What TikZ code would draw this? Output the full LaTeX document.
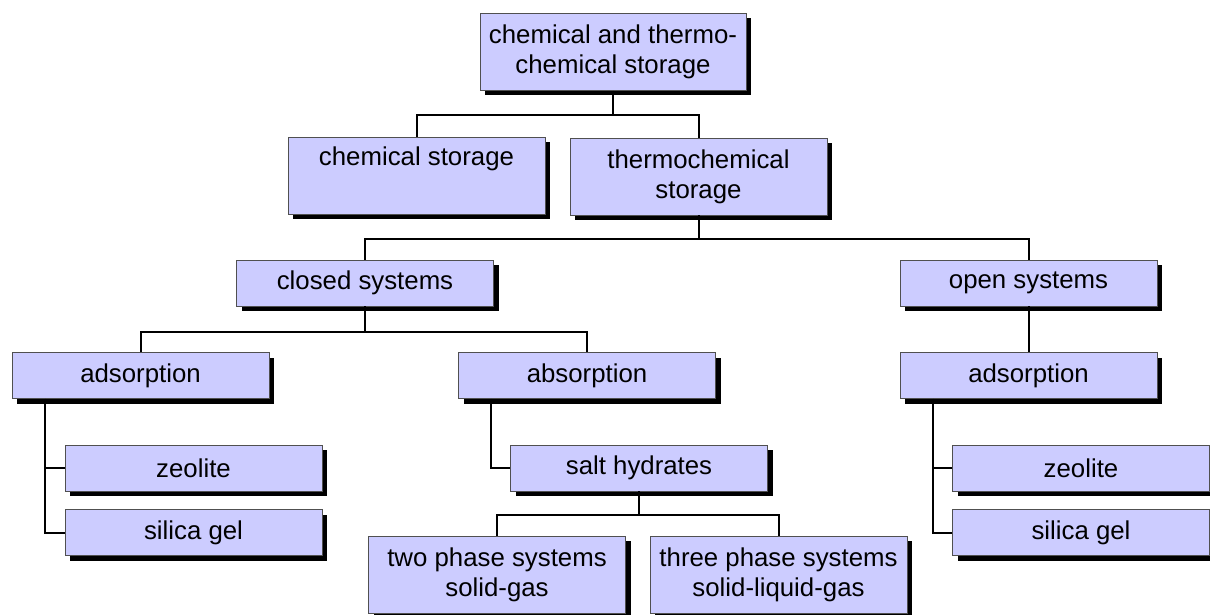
\documentclass[tikz,border=0pt]{standalone}
\usepackage{fontspec}
\setmainfont{Liberation Sans}
\usetikzlibrary{shadows,calc}
\definecolor{boxfill}{RGB}{204,204,255}
\definecolor{boxline}{RGB}{80,80,80}
\tikzset{
	box/.style={draw=boxline, line width=0.8pt, fill=boxfill,
		minimum width=257pt, minimum height=46pt, inner sep=2pt,
		align=center, font=\fontsize{25.8}{30}\selectfont,
		drop shadow={shadow xshift=5pt, shadow yshift=-5pt, fill=black, opacity=1}},
	tallbox/.style={box, minimum height=77pt},
	link/.style={line width=2pt}
}
\begin{document}
\begin{tikzpicture}[x=1pt,y=-1pt]
\useasboundingbox (0,0) rectangle (1210,615);

%Niveau 0 et 1
\node[tallbox, minimum width=266pt] (top) at (613,52) {chemical and thermo-\\chemical storage};
\node[tallbox] (chem) at (416.5,175.5) {chemical storage\\\strut};
\node[tallbox] (thermo) at (698.5,176.5) {thermochemical\\storage};

%Niveau 2
\node[box] (closed) at (365,283) {closed systems};
\node[box] (open) at (1028.5,283) {open systems};

%Niveau 3
\node[box] (adsL) at (140.5,375.5) {adsorption};
\node[box] (absorb) at (587,375.5) {absorption};
\node[box] (adsR) at (1028.5,375.5) {adsorption};

%Feuilles
\node[box] (zeoL) at (193.5,468) {zeolite};
\node[box] (silL) at (193.5,532.5) {silica gel};
\node[box] (salt) at (639,468) {salt hydrates};
\node[box] (zeoR) at (1081,468) {zeolite};
\node[box] (silR) at (1081,532.5) {silica gel};
\node[tallbox] (two) at (497,574.5) {two phase systems\\solid-gas};
\node[tallbox] (three) at (778.5,574.5) {three phase systems\\solid-liquid-gas};

%Liens
\draw[link] (top.south) -- ++(0,24) -| (chem.north);
\draw[link] (top.south) -- ++(0,24) -| (thermo.north);
\draw[link] (thermo.south) -- ++(0,24) -| (closed.north);
\draw[link] (thermo.south) -- ++(0,24) -| (open.north);
\draw[link] (closed.south) -- ++(0,26) -| (adsL.north);
\draw[link] (closed.south) -- ++(0,26) -| (absorb.north);
\draw[link] (open.south) -- (adsR.north);
\draw[link] ([xshift=33pt]adsL.south west) |- (zeoL.west);
\draw[link] ([xshift=33pt]adsL.south west) |- (silL.west);
\draw[link] ([xshift=33pt]absorb.south west) |- (salt.west);
\draw[link] ([xshift=33pt]adsR.south west) |- (zeoR.west);
\draw[link] ([xshift=33pt]adsR.south west) |- (silR.west);
\draw[link] (salt.south) -- ++(0,24) -| (two.north);
\draw[link] (salt.south) -- ++(0,24) -| (three.north);

\end{tikzpicture}
\end{document}
